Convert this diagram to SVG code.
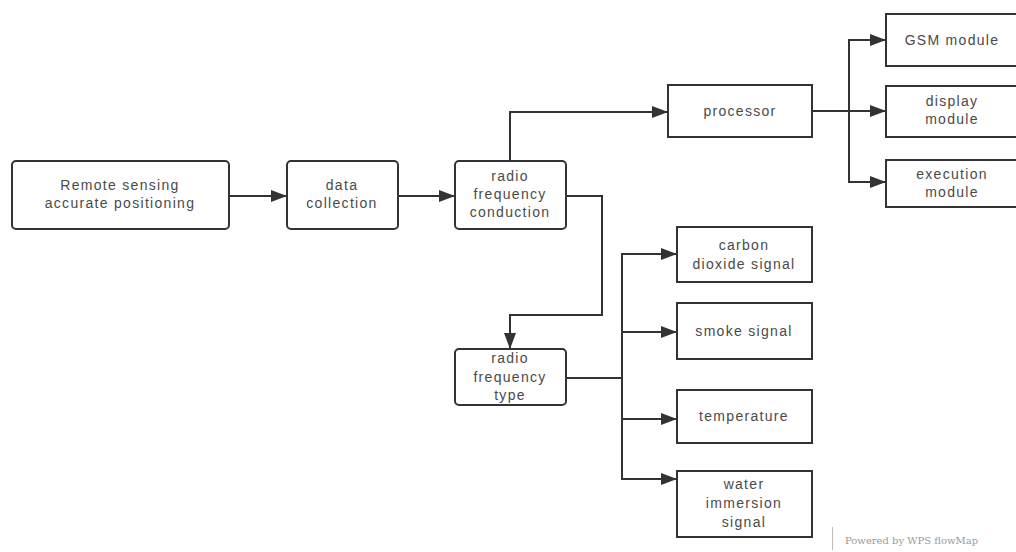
<svg xmlns="http://www.w3.org/2000/svg" width="1016" height="552" viewBox="0 0 1016 552">
<style>
.box{fill:#fff;stroke:#333;stroke-width:2}
.t{font-family:"Liberation Sans",Arial,sans-serif;font-size:14px;fill:#4a4a4a;text-anchor:middle;letter-spacing:1.3px}
.c{fill:none;stroke:#333;stroke-width:2}
.wm{font-family:"DejaVu Serif",serif;font-size:10px;fill:#999}
</style>
<defs>
<marker id="ah" markerWidth="16" markerHeight="12" refX="15" refY="6" orient="auto" markerUnits="userSpaceOnUse">
<path d="M0,0 L16,6 L0,12 Z" fill="#333"/>
</marker>
</defs>
<rect width="1016" height="552" fill="#fff"/>
<g id="connectors">
<path class="c" d="M229,196 H286" marker-end="url(#ah)"/>
<path class="c" d="M398,196 H454" marker-end="url(#ah)"/>
<path class="c" d="M510,161 V112 H667" marker-end="url(#ah)"/>
<path class="c" d="M566,196 H602 V315 H510 V348" marker-end="url(#ah)"/>
<path class="c" d="M812,111 H849"/>
<path class="c" d="M849,111 V40 H885" marker-end="url(#ah)"/>
<path class="c" d="M849,111 H885" marker-end="url(#ah)"/>
<path class="c" d="M849,111 V182 H885" marker-end="url(#ah)"/>
<path class="c" d="M566,378 H622"/>
<path class="c" d="M622,378 V254 H676" marker-end="url(#ah)"/>
<path class="c" d="M622,332 H676" marker-end="url(#ah)"/>
<path class="c" d="M622,378 V419 H676" marker-end="url(#ah)"/>
<path class="c" d="M622,378 V479 H676" marker-end="url(#ah)"/>
</g>
<g id="n1"><rect class="box" x="12" y="161" width="217" height="68" rx="4"/>
<text class="t" x="120" y="190">Remote sensing</text><text class="t" x="120" y="208">accurate positioning</text></g>
<g id="n2"><rect class="box" x="287" y="161" width="111" height="68" rx="4"/>
<text class="t" x="342" y="190">data</text><text class="t" x="342" y="208">collection</text></g>
<g id="n3"><rect class="box" x="455" y="161" width="111" height="68" rx="4"/>
<text class="t" x="510" y="181">radio</text><text class="t" x="510" y="199">frequency</text><text class="t" x="510" y="217">conduction</text></g>
<g id="n4"><rect class="box" x="668" y="85" width="144" height="52"/>
<text class="t" x="740" y="116">processor</text></g>
<g id="n5"><rect class="box" x="886" y="14" width="134" height="52"/>
<text class="t" x="952" y="45">GSM module</text></g>
<g id="n6"><rect class="box" x="886" y="86" width="134" height="51"/>
<text class="t" x="952" y="106">display</text><text class="t" x="952" y="124">module</text></g>
<g id="n7"><rect class="box" x="886" y="160" width="134" height="47"/>
<text class="t" x="952" y="179">execution</text><text class="t" x="952" y="197">module</text></g>
<g id="n8"><rect class="box" x="455" y="349" width="111" height="56" rx="4"/>
<text class="t" x="510" y="363">radio</text><text class="t" x="510" y="382">frequency</text><text class="t" x="510" y="400">type</text></g>
<g id="n9"><rect class="box" x="677" y="227" width="135" height="55"/>
<text class="t" x="744" y="250">carbon</text><text class="t" x="744" y="269">dioxide signal</text></g>
<g id="n10"><rect class="box" x="677" y="303" width="135" height="56"/>
<text class="t" x="744" y="336">smoke signal</text></g>
<g id="n11"><rect class="box" x="677" y="390" width="135" height="53"/>
<text class="t" x="744" y="421">temperature</text></g>
<g id="n12"><rect class="box" x="677" y="471" width="135" height="66"/>
<text class="t" x="744" y="489">water</text><text class="t" x="744" y="508">immersion</text><text class="t" x="744" y="527">signal</text></g>
<g id="watermark">
<line x1="832.5" y1="527" x2="832.5" y2="550" stroke="#bbb" stroke-width="1"/>
<text class="wm" x="845" y="544">Powered by WPS flowMap</text>
</g>
</svg>
